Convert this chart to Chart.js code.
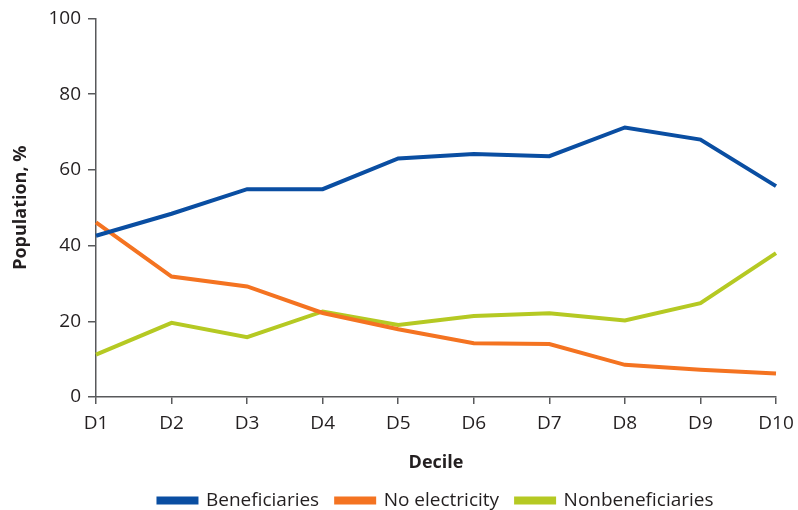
<!DOCTYPE html>
<html>
<head>
<meta charset="utf-8">
<script src="https://cdn.jsdelivr.net/npm/chart.js@4"></script>
<style>
html,body{margin:0;padding:0;background:#fff;}
#wrap{width:798px;height:510px;}
</style>
</head>
<body>
<div id="wrap"><canvas id="c" width="798" height="510"></canvas></div>
<script>
const categories = ["D1","D2","D3","D4","D5","D6","D7","D8","D9","D10"];
const beneficiaries = [42.6, 48.4, 54.9, 54.9, 63.0, 64.2, 63.6, 71.2, 68.0, 55.7];
const noElectricity = [46.1, 31.8, 29.2, 22.2, 17.9, 14.2, 14.0, 8.5, 7.2, 6.2];
const nonbeneficiaries = [11.2, 19.6, 15.8, 22.6, 19.0, 21.4, 22.1, 20.2, 24.8, 38.0];
const yTicks = [0, 20, 40, 60, 80, 100];

const FONT = "'Open Sans', 'Noto Sans', sans-serif";
const TXT = "#231f20";
const AX = "#58595b";

// center the legend over the plot area instead of the whole canvas
const legendOverPlot = {
  id: 'legendOverPlot',
  afterLayout(chart) {
    if (chart.legend && chart.chartArea) {
      chart.legend.left = chart.chartArea.left;
      chart.legend.right = chart.chartArea.right;
    }
  }
};

new Chart(document.getElementById('c'), {
  type: 'line',
  data: {
    labels: categories,
    datasets: [
      {label: 'Beneficiaries', data: beneficiaries, borderColor: '#0a4ea2', backgroundColor: '#0a4ea2', borderWidth: 4, pointRadius: 0, tension: 0},
      {label: 'No electricity', data: noElectricity, borderColor: '#f47321', backgroundColor: '#f47321', borderWidth: 4, pointRadius: 0, tension: 0},
      {label: 'Nonbeneficiaries', data: nonbeneficiaries, borderColor: '#b5c923', backgroundColor: '#b5c923', borderWidth: 4, pointRadius: 0, tension: 0}
    ]
  },
  plugins: [legendOverPlot],
  options: {
    responsive: false,
    animation: false,
    layout: {padding: {left: 0, right: 22, top: 17, bottom: -10}},
    plugins: {
      tooltip: {enabled: false},
      legend: {
        position: 'bottom',
        labels: {
          color: TXT,
          font: {family: FONT, size: 19},
          boxWidth: 38,
          boxHeight: 4,
          padding: 17
        }
      }
    },
    scales: {
      x: {
        offset: false,
        grid: {display: true, drawOnChartArea: false, drawTicks: true, tickLength: 7, color: AX, lineWidth: 1.5},
        border: {display: true, color: AX, width: 1.5},
        ticks: {color: TXT, font: {family: FONT, size: 19}, padding: 8, maxRotation: 0, autoSkip: false},
        title: {display: true, text: 'Decile', color: TXT, font: {family: FONT, size: 18, weight: 'bold'}, padding: {top: 10, bottom: 0}},
        afterFit: s => { s.height = 77; s.paddingRight = 0; s.paddingLeft = 0; }
      },
      y: {
        min: 0, max: 100,
        afterBuildTicks: s => { s.ticks = yTicks.map(v => ({value: v})); },
        grid: {display: true, drawOnChartArea: false, drawTicks: true, tickLength: 8, color: AX, lineWidth: 1.5},
        border: {display: true, color: AX, width: 1.5},
        ticks: {color: TXT, font: {family: FONT, size: 19}, padding: 7},
        title: {display: true, text: 'Population, %', color: TXT, font: {family: FONT, size: 18, weight: 'bold'}, padding: {top: 10, bottom: 8}},
        afterFit: s => { s.width = 96; }
      }
    }
  }
});
</script>
</body>
</html>
